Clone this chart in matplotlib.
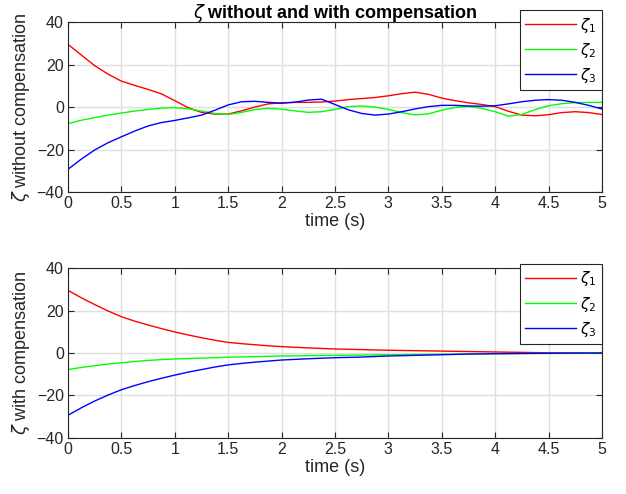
import matplotlib
matplotlib.use('Agg')
import matplotlib.pyplot as plt

plt.rcParams['font.family'] = ['Liberation Sans', 'DejaVu Sans']
plt.rcParams['font.size'] = 11.5

# time grids
t_top = [i * 0.125 for i in range(41)]
t_bot = [0, 0.125, 0.25, 0.375, 0.5, 0.625, 0.75, 0.875, 1.0, 1.125, 1.25,
         1.375, 1.5, 1.625, 1.75, 1.875, 2.0, 2.25, 2.5, 2.75, 3.0, 3.25,
         3.5, 3.75, 4.0, 4.25, 4.5, 4.75, 5.0]

# zeta without compensation
z1_top = [29.5, 24.5, 19.5, 15.5, 12.2, 10.2, 8.3, 6.2, 3.0, -0.3,
          -2.5, -3.3, -3.3, -1.8, 0.0, 1.5, 2.0, 2.2, 2.2, 2.4,
          2.8, 3.5, 4.0, 4.5, 5.3, 6.3, 7.0, 6.0, 4.2, 3.0,
          2.0, 1.2, 0.2, -2.0, -3.8, -4.1, -3.6, -2.6, -2.2, -2.6, -3.5]
z2_top = [-7.8, -6.2, -5.0, -3.8, -2.8, -1.9, -1.1, -0.5, -0.3, -0.8,
          -1.9, -3.0, -3.5, -2.5, -1.2, -0.6, -1.0, -1.8, -2.5, -2.2,
          -1.1, 0.2, 0.5, 0.0, -1.1, -2.6, -3.7, -3.2, -1.5, -0.2,
          0.3, -0.6, -2.2, -4.3, -3.5, -1.2, 0.6, 1.6, 2.1, 2.2, 2.2]
z3_top = [-29.3, -24.5, -20.2, -16.8, -14.0, -11.3, -8.9, -7.3, -6.3, -5.1,
          -3.8, -1.5, 1.0, 2.5, 2.7, 2.2, 1.8, 2.3, 3.3, 3.7,
          1.2, -1.3, -3.0, -3.8, -3.3, -2.2, -0.9, 0.2, 0.8, 0.8,
          0.5, 0.4, 0.6, 1.5, 2.5, 3.2, 3.5, 3.2, 2.2, 0.8, -0.9]

# zeta with compensation
z1_bot = [29.5, 26.0, 22.8, 19.8, 17.1, 15.0, 13.2, 11.5, 9.9, 8.5, 7.2,
          6.0, 5.0, 4.4, 3.9, 3.4, 3.0, 2.4, 1.9, 1.6, 1.3, 1.1,
          0.9, 0.7, 0.5, 0.3, 0.1, 0.05, 0.0]
z2_bot = [-7.8, -6.8, -6.0, -5.2, -4.6, -4.0, -3.5, -3.1, -2.8, -2.6, -2.4,
          -2.2, -2.0, -1.85, -1.7, -1.55, -1.4, -1.25, -1.1, -0.95, -0.8, -0.7,
          -0.6, -0.5, -0.4, -0.3, -0.2, -0.15, -0.1]
z3_bot = [-29.3, -25.8, -22.6, -19.8, -17.3, -15.3, -13.5, -11.9, -10.4, -9.0, -7.8,
          -6.6, -5.6, -4.9, -4.3, -3.8, -3.3, -2.7, -2.2, -1.9, -1.4, -1.1,
          -0.8, -0.5, -0.3, -0.2, -0.1, -0.05, 0.0]

labels = [r'$\zeta_1$', r'$\zeta_2$', r'$\zeta_3$']
colors = ['#ff0000', '#00ff00', '#0000ff']
xticks = [0, 0.5, 1, 1.5, 2, 2.5, 3, 3.5, 4, 4.5, 5]
xticklabels = ['0', '0.5', '1', '1.5', '2', '2.5', '3', '3.5', '4', '4.5', '5']
yticks = [-40, -20, 0, 20, 40]

fig = plt.figure(figsize=(6.26, 4.94), dpi=100)
ax1 = fig.add_axes([0.1086, 0.6113, 0.853, 0.344])
ax2 = fig.add_axes([0.1086, 0.1134, 0.853, 0.344])

panels = [
    (ax1, t_top, [z1_top, z2_top, z3_top], r'$\zeta$ without compensation', 1.07),
    (ax2, t_bot, [z1_bot, z2_bot, z3_bot], r'$\zeta$ with compensation', 1.0235),
]

for ax, t, series, ylab, ly in panels:
    for z, c, lab in zip(series, colors, labels):
        ax.plot(t, z, color=c, lw=1, label=lab)
    ax.set_xlim(0, 5)
    ax.set_ylim(-40, 40)
    ax.set_xticks(xticks)
    ax.set_xticklabels(xticklabels)
    ax.set_yticks(yticks)
    ax.grid(True, color='#dfdfdf', lw=1)
    ax.set_axisbelow(True)
    ax.tick_params(direction='in', top=True, right=True, length=4,
                   color='#262626', labelcolor='#262626', pad=3)
    for s in ax.spines.values():
        s.set_color('#262626')
    ax.set_xlabel('time (s)', color='#262626', fontsize=13, labelpad=1)
    ax.set_ylabel(ylab, color='#262626', fontsize=13, labelpad=3)
    leg = ax.legend(loc='upper right', bbox_to_anchor=(1.0, ly), fancybox=False,
                    edgecolor='#262626', framealpha=1, handlelength=3.3,
                    labelspacing=0.4, borderaxespad=0, handletextpad=0.3,
                    borderpad=0.35, fontsize=11)
    leg.get_frame().set_linewidth(0.8)

ax1.set_title(r'$\zeta$ without and with compensation', fontweight='bold',
              fontsize=13, pad=3)

fig.savefig('out.png', dpi=100)
